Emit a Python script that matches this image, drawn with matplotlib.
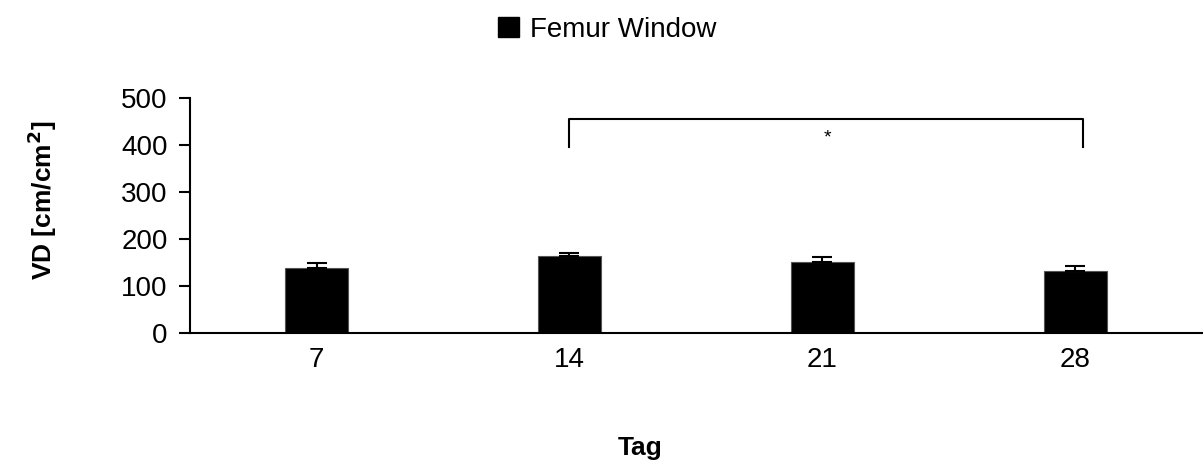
import matplotlib.pyplot as plt
from matplotlib.patches import Patch

plt.rcParams['font.family'] = ['Liberation Sans', 'DejaVu Sans']

tage = ['7', '14', '21', '28']
vd = [139, 163, 152, 131]
vd_fehler = [11, 7, 10, 11]

fig = plt.figure(figsize=(12.03, 4.68), dpi=100)
ax = fig.add_axes([0.158, 0.2885, 0.841, 0.502])

x = range(len(tage))
ax.bar(x, vd, width=0.25, color='black', edgecolor='#555555', linewidth=0.8)
ax.errorbar(x, vd, yerr=[[0] * len(vd), vd_fehler], fmt='none',
            ecolor='black', elinewidth=1.5, capsize=7, capthick=1.5)

# Signifikanz-Klammer 14 vs 28
ax.plot([1.0, 1.0, 3.03, 3.03], [396, 456, 456, 396], color='black', linewidth=1.5)
ax.text(2.02, 415, '*', ha='center', va='center', fontsize=14)

ax.set_xlim(-0.5, 3.5)
ax.set_ylim(0, 500)
ax.set_yticks([0, 100, 200, 300, 400, 500])
ax.set_xticks(list(x))
ax.set_xticklabels(tage)
ax.tick_params(axis='y', direction='out', length=8, width=1.5, labelsize=20, pad=8)
ax.tick_params(axis='x', length=0, labelsize=20, pad=10)

for s in ['top', 'right']:
    ax.spines[s].set_visible(False)
ax.spines['left'].set_linewidth(1.5)
ax.spines['bottom'].set_linewidth(1.5)

ax.set_ylabel('VD [cm/cm$^\\mathbf{2}$]', fontsize=19, fontweight='bold')
ax.yaxis.set_label_coords(-0.13, 0.565)
fig.text(640 / 1203, 1 - 448 / 468, 'Tag', fontsize=19, fontweight='bold',
         ha='center', va='center')

fig.legend(handles=[Patch(facecolor='black', edgecolor='black', label='Femur Window')],
           loc='upper center', bbox_to_anchor=(0.505, 1.018), frameon=False,
           fontsize=20, handlelength=0.75, handleheight=0.75, handletextpad=0.4)

plt.savefig('out.png', dpi=100)
